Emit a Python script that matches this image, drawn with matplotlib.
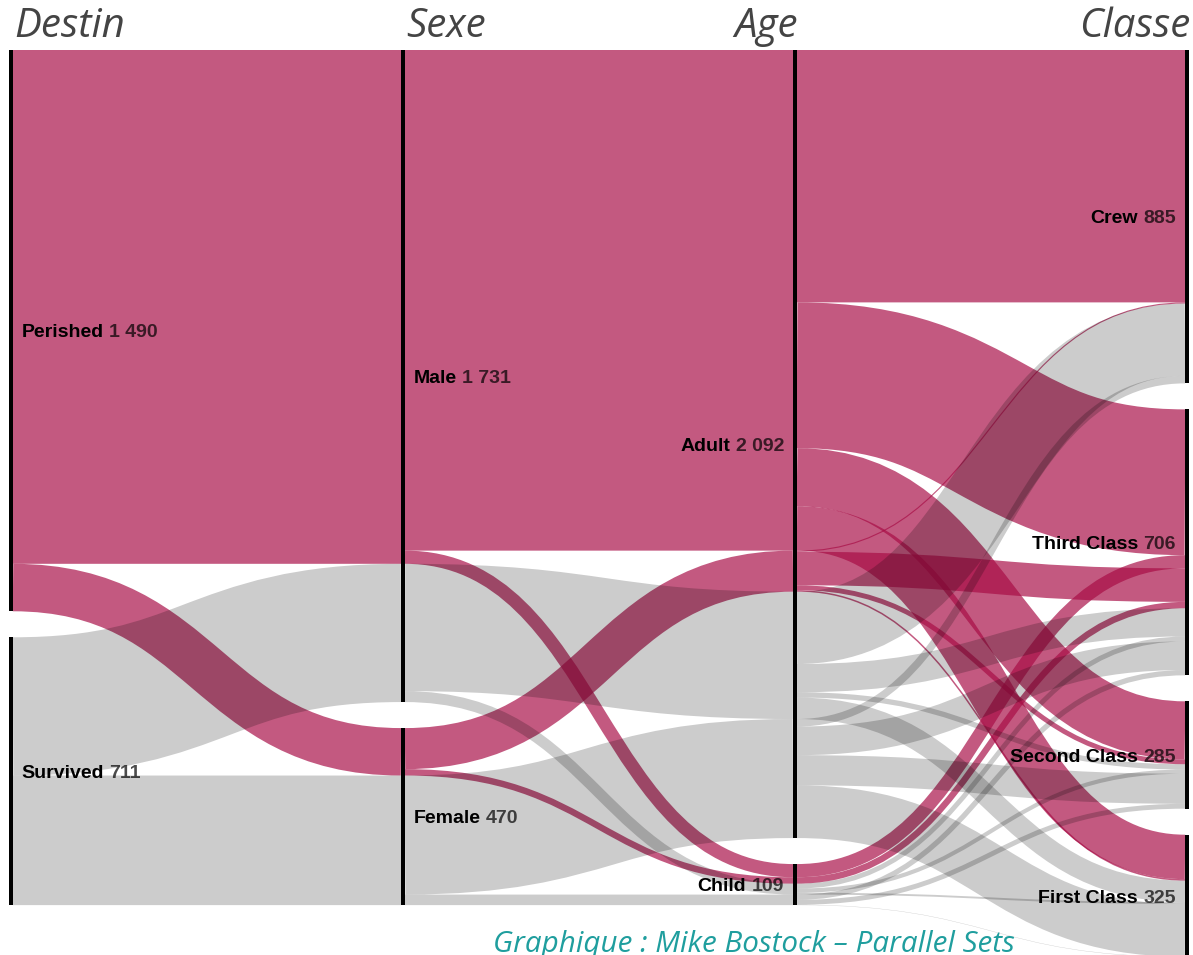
import matplotlib
matplotlib.use("Agg")
import matplotlib.pyplot as plt
from matplotlib.path import Path
from matplotlib.patches import PathPatch

# ---------------- data (Titanic) ----------------
dimension_titles = ["Destin", "Sexe", "Age", "Classe"]
destin_cats = ["Perished", "Survived"]
sexe_cats = ["Male", "Female"]
age_cats = ["Adult", "Child"]
classe_cats = ["Crew", "Third Class", "Second Class", "First Class"]

row_destin = ["Perished"] * 10 + ["Survived"] * 14
row_sexe = ["Male"] * 5 + ["Female"] * 5 + ["Male"] * 7 + ["Female"] * 7
row_age = (["Adult"] * 4 + ["Child"] + ["Adult"] * 4 + ["Child"]
           + ["Adult"] * 4 + ["Child"] * 3 + ["Adult"] * 4 + ["Child"] * 3)
row_classe = ["Crew", "Third Class", "Second Class", "First Class", "Third Class",
              "Crew", "Third Class", "Second Class", "First Class", "Third Class",
              "Crew", "Third Class", "Second Class", "First Class", "Third Class",
              "Second Class", "First Class",
              "Crew", "Third Class", "Second Class", "First Class", "Third Class",
              "Second Class", "First Class"]
row_count = [670, 387, 154, 118, 35, 3, 89, 13, 4, 17,
             192, 75, 14, 57, 13, 11, 5,
             20, 76, 80, 140, 14, 13, 1]

caption = "Graphique : Mike Bostock \u2013 Parallel Sets"

# ---------------- style / layout ----------------
W, H, DPI = 1193, 955, 100
TOP_PX = 50           # top of the nodes
PX_PER_UNIT = 0.3767  # vertical scale (pixels per person)
PAD_PX = 26           # gap between nodes
COL0_PX, COL_STEP_PX, BAR_PX = 11, 392, 4
PINK_RGB = (0.655, 0.043, 0.265)   # drawn with alpha -> approx multiply look
PINK_ALPHA = 0.68
GREY_ALPHA = 0.20                  # black @ 0.2 == multiply by #ccc
LABEL_FONT = "Liberation Sans"
LABEL_SIZE = 14
TITLE_FONT = "Open Sans"
TITLE_SIZE = 29

columns = [destin_cats, sexe_cats, age_cats, classe_cats]
rows = list(zip(row_destin, row_sexe, row_age, row_classe, row_count))

fig = plt.figure(figsize=(W / DPI, H / DPI), dpi=DPI)
ax = fig.add_axes([0, 0, 1, 1])
ax.axis("off")
ax.set_xlim(-COL0_PX / COL_STEP_PX, (W - COL0_PX) / COL_STEP_PX)
ax.set_ylim((H - TOP_PX) / PX_PER_UNIT, -TOP_PX / PX_PER_UNIT)
pad = PAD_PX / PX_PER_UNIT
bar_w = BAR_PX / COL_STEP_PX

# ---- nodes ----
nodes = {}
for c, cats in enumerate(columns):
    y = 0.0
    for cat in cats:
        v = sum(r[4] for r in rows if r[c] == cat)
        nodes[(c, cat)] = {"y0": y, "value": v, "out": 0.0, "in": 0.0}
        y += v + pad

# ---- links (keyed by full prefix, first-appearance order) ----
links = []
for c in range(len(columns) - 1):
    seen = {}
    for r in rows:
        key = r[:c + 2]
        if key in seen:
            seen[key]["value"] += r[4]
            continue
        lk = {"c": c, "src": (c, r[c]), "tgt": (c + 1, r[c + 1]),
              "value": r[4], "color": r[0]}
        seen[key] = lk
        links.append(lk)

for lk in links:
    s = nodes[lk["src"]]
    t = nodes[lk["tgt"]]
    lk["ys"] = s["y0"] + s["out"] + lk["value"] / 2
    s["out"] += lk["value"]
    lk["yt"] = t["y0"] + t["in"] + lk["value"] / 2
    t["in"] += lk["value"]

# pixel size of one unit
p0 = ax.transData.transform((0, 0))
p1 = ax.transData.transform((0, 1))
px_unit = abs(p1[1] - p0[1])

def draw_link(lk):
    c = lk["c"]
    x0 = c + bar_w / 2
    x1 = c + 1 - bar_w / 2
    xm = (x0 + x1) / 2
    path = Path([(x0, lk["ys"]), (xm, lk["ys"]), (xm, lk["yt"]), (x1, lk["yt"])],
                [Path.MOVETO, Path.CURVE4, Path.CURVE4, Path.CURVE4])
    lw = lk["value"] * px_unit * 72.0 / DPI
    if lk["color"] == "Perished":
        col, a = PINK_RGB, PINK_ALPHA
    else:
        col, a = (0, 0, 0), GREY_ALPHA
    ax.add_patch(PathPatch(path, facecolor="none", edgecolor=col, alpha=a,
                           linewidth=lw, capstyle="butt", zorder=1))

for lk in [l for l in links if l["color"] == "Perished"]:
    draw_link(lk)
for lk in [l for l in links if l["color"] != "Perished"]:
    draw_link(lk)

# ---- node bars ----
for (c, cat), nd in nodes.items():
    ax.bar(c, nd["value"], bottom=nd["y0"], width=bar_w, color="black",
           linewidth=0, zorder=3)

# ---- labels ----
def fmt(v):
    return f"{v:,}".replace(",", " ")

dy = -0.35 * LABEL_SIZE
for (c, cat), nd in nodes.items():
    ymid = nd["y0"] + nd["value"] / 2
    kw = dict(fontsize=LABEL_SIZE, fontweight="bold", family=LABEL_FONT, zorder=5,
              annotation_clip=False)
    if c < 2:
        t1 = ax.annotate(cat, xy=(c + bar_w / 2, ymid), xytext=(6.0, dy),
                         textcoords="offset points", ha="left", va="baseline",
                         color="black", **kw)
        ax.annotate(fmt(nd["value"]), xy=(1, 0), xycoords=t1, xytext=(3.9, 0),
                    textcoords="offset points", ha="left", va="bottom",
                    color=(0, 0, 0, 0.7), **kw)
    else:
        t2 = ax.annotate(fmt(nd["value"]), xy=(c - bar_w / 2, ymid), xytext=(-6.5, dy),
                         textcoords="offset points", ha="right", va="baseline",
                         color=(0, 0, 0, 0.7), **kw)
        ax.annotate(cat, xy=(0, 0), xycoords=t2, xytext=(-3.9, 0),
                    textcoords="offset points", ha="right", va="bottom",
                    color="black", **kw)

# ---- column titles ----
title_y = (37 - TOP_PX) / PX_PER_UNIT
for c, title in enumerate(dimension_titles):
    if c < 2:
        ax.text(c - bar_w / 2 + 5 / COL_STEP_PX, title_y, title, ha="left",
                va="baseline", fontsize=TITLE_SIZE, style="italic",
                family=TITLE_FONT, color="#444444")
    else:
        ax.text(c + bar_w / 2 + 1 / COL_STEP_PX, title_y, title, ha="right",
                va="baseline", fontsize=TITLE_SIZE, style="italic",
                family=TITLE_FONT, color="#444444")

# ---- caption ----
fig.text(754 / W, 1 - 952 / H, caption, ha="center", va="baseline",
         fontsize=21.3, style="italic", family=TITLE_FONT, color="#1f9e9e")

fig.savefig("out.png", dpi=DPI)
